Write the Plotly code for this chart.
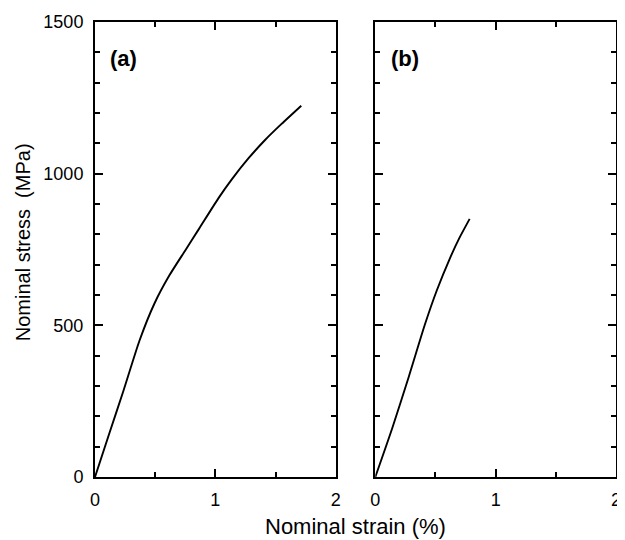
import plotly.graph_objects as go

# Panel (a) curve: nominal strain (%) vs nominal stress (MPa)
strain_a = [0.0, 0.12, 0.233, 0.37, 0.494, 0.617, 0.75, 0.864, 1.029, 1.138, 1.276, 1.413, 1.55, 1.714]
stress_a = [0, 145, 280, 450, 572, 664, 747, 818, 921, 982, 1051, 1111, 1164, 1224]

# Panel (b) curve
strain_b = [0.0, 0.14, 0.277, 0.414, 0.51, 0.62, 0.70, 0.784]
stress_b = [0, 160, 329, 505, 614, 721, 789, 851]

x_ticks = [0, 1, 2]
y_ticks = [0, 500, 1000, 1500]
panel_labels = ["(a)", "(b)"]
x_title = "Nominal strain (%)"
y_title = "Nominal stress  (MPa)"

FONT = "Liberation Sans, Arial, sans-serif"

fig = go.Figure()
fig.add_trace(go.Scatter(x=strain_a, y=stress_a, mode="lines",
                         line=dict(color="black", width=1.9, shape="spline", smoothing=0.6),
                         xaxis="x", yaxis="y", showlegend=False))
fig.add_trace(go.Scatter(x=strain_b, y=stress_b, mode="lines",
                         line=dict(color="black", width=1.9, shape="spline", smoothing=0.6),
                         xaxis="x2", yaxis="y2", showlegend=False))

common_x = dict(range=[0, 2], tickvals=x_ticks, ticktext=[str(v) for v in x_ticks],
                ticks="inside", ticklen=8, tickwidth=2, tickcolor="black",
                showline=True, linecolor="black", linewidth=2, mirror="ticks",
                showgrid=False, zeroline=False, ticklabelstandoff=5,
                minor=dict(tickvals=[0.5, 1.5], ticks="inside", ticklen=5, tickwidth=1.5, tickcolor="black"),
                tickfont=dict(family=FONT, size=18, color="black"))
common_y = dict(range=[0, 1500], tickvals=y_ticks,
                ticks="inside", ticklen=8, tickwidth=2, tickcolor="black",
                showline=True, linecolor="black", linewidth=2, mirror="ticks",
                showgrid=False, zeroline=False,
                minor=dict(dtick=100, ticks="inside", ticklen=5, tickwidth=1.5, tickcolor="black"),
                tickfont=dict(family=FONT, size=18, color="black"))

# The page body adds an 8px offset, so the figure is sized 8px smaller
fig.update_layout(
    width=617, height=532,
    margin=dict(l=87, r=4, t=12, b=63),
    paper_bgcolor="white", plot_bgcolor="white",
    xaxis=dict(domain=[0, 0.462], anchor="y", **common_x),
    xaxis2=dict(domain=[0.538, 1], anchor="y2", **common_x),
    yaxis=dict(domain=[0, 1], anchor="x", ticklabelstandoff=6, **common_y),
    yaxis2=dict(domain=[0, 1], anchor="x2", showticklabels=False, **common_y),
    annotations=[
        dict(text=panel_labels[0], x=0.11, y=1380, xref="x", yref="y", showarrow=False,
             xanchor="left", yanchor="middle",
             font=dict(family=FONT, size=22, color="black", weight="bold")),
        dict(text=panel_labels[1], x=0.11, y=1380, xref="x2", yref="y2", showarrow=False,
             xanchor="left", yanchor="middle",
             font=dict(family=FONT, size=22, color="black", weight="bold")),
        dict(text=x_title, x=0.5, y=-0.108, xref="paper", yref="paper", showarrow=False,
             xanchor="center", yanchor="middle",
             font=dict(family=FONT, size=22, color="black")),
        dict(text=y_title, x=-0.139, y=0.515, xref="paper", yref="paper", showarrow=False,
             xanchor="center", yanchor="middle", textangle=-90,
             font=dict(family=FONT, size=20, color="black")),
    ],
)

fig.write_html("out.html")
